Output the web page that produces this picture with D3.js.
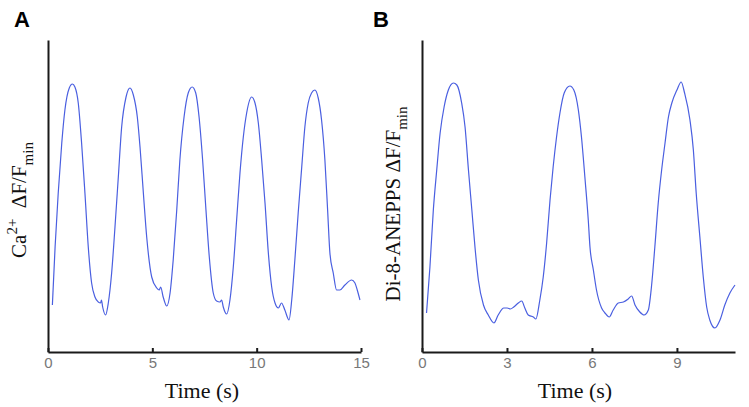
<!DOCTYPE html>
<html>
<head>
<meta charset="utf-8">
<script src="https://cdn.jsdelivr.net/npm/d3@7"></script>
<style>
  body { margin: 0; background: #fff; }
  svg { display: block; }
  .trace { fill: none; stroke: #4a5fe0; stroke-width: 1.2; }
  .axis path, .axis line { stroke: #1a1a1a; stroke-width: 2; }
  .axis text { font-family: "Liberation Sans", Arial, sans-serif; font-size: 15px; fill: #777; }
  .lab { font-family: "Liberation Serif", "Times New Roman", serif; font-size: 21px; fill: #111; }
  .panel { font-family: "Liberation Sans", Arial, sans-serif; font-size: 22px; font-weight: bold; }
</style>
</head>
<body>
<svg width="749" height="407"></svg>
<script>
// calcium trace (panel A), time in s, dF/F in arbitrary units
var caTime = [0.21,0.34,0.49,0.66,0.81,1.02,1.17,1.29,1.45,1.61,1.77,1.93,2.09,2.25,2.41,2.52,2.56,2.62,2.76,2.89,
  3.05,3.21,3.37,3.53,3.74,3.93,4.09,4.28,4.41,4.57,4.73,4.97,5.21,5.33,5.40,5.52,5.69,5.85,6.00,6.17,
  6.32,6.52,6.72,6.91,7.08,7.24,7.41,7.57,7.73,7.92,8.08,8.24,8.32,8.40,8.56,8.72,8.88,9.04,9.20,9.36,
  9.52,9.76,9.92,10.08,10.24,10.40,10.56,10.72,10.88,11.04,11.19,11.35,11.55,11.68,11.83,11.99,12.16,12.31,12.47,12.63,
  12.79,12.95,13.11,13.27,13.40,13.51,13.67,13.83,13.99,14.23,14.55,14.71,14.82,14.95];
var caVal = [0.47,1.05,1.59,2.09,2.42,2.64,2.68,2.65,2.49,2.09,1.59,1.05,0.69,0.55,0.50,0.49,0.52,0.45,0.37,0.49,
  0.79,1.25,1.75,2.25,2.55,2.64,2.57,2.35,2.05,1.59,1.15,0.75,0.64,0.62,0.65,0.55,0.46,0.59,0.92,1.42,
  1.92,2.35,2.59,2.65,2.59,2.35,1.92,1.42,0.95,0.59,0.51,0.50,0.52,0.45,0.38,0.52,0.85,1.32,1.79,2.15,
  2.39,2.55,2.49,2.29,1.92,1.49,0.99,0.65,0.49,0.44,0.49,0.42,0.32,0.52,0.92,1.39,1.85,2.25,2.49,2.59,
  2.62,2.54,2.32,1.92,1.42,0.99,0.79,0.62,0.62,0.67,0.72,0.69,0.62,0.52];

// voltage dye trace (panel B)
var diTime = [0.16,0.28,0.40,0.52,0.64,0.78,0.93,1.11,1.23,1.40,1.52,1.64,1.76,1.87,1.99,2.17,2.34,2.54,2.69,2.89,
  3.01,3.12,3.24,3.40,3.52,3.63,3.75,3.93,4.02,4.16,4.28,4.40,4.52,4.63,4.75,4.87,5.02,5.22,5.36,5.52,
  5.63,5.75,5.87,5.93,6.05,6.16,6.34,6.46,6.61,6.75,6.93,7.11,7.28,7.40,7.52,7.69,7.84,7.99,8.10,8.22,
  8.34,8.46,8.58,8.70,8.82,9.00,9.15,9.27,9.46,9.58,9.68,9.81,9.93,10.05,10.16,10.34,10.52,10.69,10.87,11.05];
var diVal = [0.39,0.85,1.42,1.82,2.19,2.45,2.62,2.69,2.67,2.49,2.25,1.82,1.42,1.05,0.72,0.47,0.37,0.29,0.37,0.44,
  0.44,0.43,0.45,0.49,0.51,0.44,0.37,0.35,0.33,0.52,0.75,1.09,1.52,1.85,2.15,2.39,2.59,2.66,2.62,2.42,
  2.15,1.75,1.32,1.05,0.82,0.62,0.44,0.39,0.35,0.42,0.49,0.50,0.53,0.56,0.47,0.40,0.37,0.42,0.65,1.05,
  1.49,1.82,2.09,2.35,2.49,2.62,2.70,2.59,2.32,2.02,1.59,1.15,0.75,0.45,0.32,0.24,0.32,0.47,0.59,0.67];

var caTicks = [0, 5, 10, 15];
var diTicks = [0, 3, 6, 9];

var svg = d3.select("svg");
var top_ = 40, base = 352;

function panel(opt) {
  var x = d3.scaleLinear().domain(opt.xdom).range([opt.left, opt.right]);
  var y = d3.scaleLinear().domain([0, 3.12]).range([base, top_]);
  var g = svg.append("g");

  // x axis, ticks pointing up into the plot
  g.append("g")
      .attr("class", "axis")
      .attr("transform", "translate(0," + base + ")")
      .call(d3.axisBottom(x).tickValues(opt.ticks).tickSize(-4).tickSizeOuter(0).tickPadding(5));
  g.selectAll(".axis .tick text").attr("dy", "0.71em").attr("y", 5);

  // y axis has no ticks, just the line
  g.append("g")
      .attr("class", "axis")
      .attr("transform", "translate(" + opt.left + ",0)")
      .call(d3.axisLeft(y).tickValues([]).tickSizeOuter(0));

  var line = d3.line()
      .curve(d3.curveMonotoneX)
      .x(function(d) { return x(d[0]); })
      .y(function(d) { return y(d[1]); });
  var pts = d3.zip(opt.t, opt.v);
  g.append("path").datum(pts).attr("class", "trace").attr("d", line);

  // x label
  g.append("text").attr("class", "lab")
      .attr("x", opt.xlabX).attr("y", 398)
      .attr("text-anchor", "middle")
      .style("font-size", "22px")
      .text("Time (s)");

  // panel letter
  g.append("text").attr("class", "panel")
      .attr("x", opt.letterX).attr("y", 27)
      .text(opt.letter);

  return g;
}

var gA = panel({xdom: [0, 15], left: 48, right: 361, ticks: caTicks, t: caTime, v: caVal,
  xlabX: 202, letter: "A", letterX: 14});
var gB = panel({xdom: [0, 11.05], left: 422, right: 735, ticks: diTicks, t: diTime, v: diVal,
  xlabX: 575, letter: "B", letterX: 373});

// rotated y labels with super/subscripts
var yl = gA.append("text").attr("class", "lab")
    .attr("transform", "translate(26,200) rotate(-90)")
    .attr("text-anchor", "middle");
yl.append("tspan").text("Ca");
yl.append("tspan").attr("dy", -9).style("font-size", "15px").text("2+");
yl.append("tspan").attr("dy", 9).text("\u00a0 \u0394F/F");
yl.append("tspan").attr("dy", 7).style("font-size", "15px").text("min");

var yl2 = gB.append("text").attr("class", "lab")
    .attr("transform", "translate(400,204) rotate(-90)")
    .attr("text-anchor", "middle");
yl2.append("tspan").text("Di-8-ANEPPS \u0394F/F");
yl2.append("tspan").attr("dy", 7).style("font-size", "15px").text("min");
</script>
</body>
</html>
